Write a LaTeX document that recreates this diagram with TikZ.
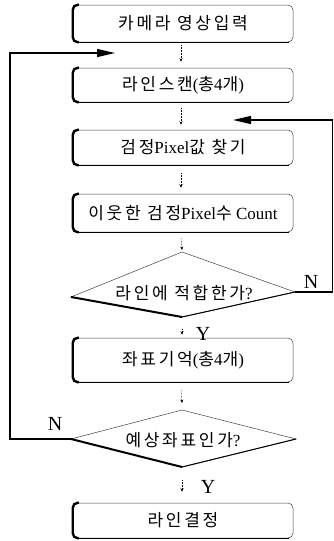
\documentclass[tikz,border=0pt]{standalone}
\usepackage{fontspec}
\setmainfont{Liberation Serif}
\newfontfamily\kr[LetterSpace=16]{Noto Sans CJK KR}
\usetikzlibrary{arrows.meta}
\begin{document}
\begin{tikzpicture}[x=1pt,y=-1pt,
  flowbox/.style={draw=black!75, line width=0.5pt, rounded corners=5pt,
    minimum width=220pt, inner sep=0pt, font=\fontsize{17}{20}\selectfont},
  thickleft/.style={line width=2.4pt, rounded corners=5pt},
  thickbottom/.style={line width=1.2pt},
  dtext/.style={inner sep=0pt, font=\fontsize{17}{20}\selectfont},
  dedge/.style={draw=black!75, line width=0.5pt},
  smallarrow/.style={densely dotted, line width=0.5pt, -{Stealth[length=3.5pt,width=3pt]}},
  looparrow/.style={line width=1.3pt, -{Triangle[length=18pt,width=8pt]}},
  yn/.style={font=\fontsize{20}{22}\selectfont, inner sep=0pt}]
\useasboundingbox (0,0) rectangle (334,541);
% boxes
\node[flowbox, minimum height=37pt] (b1) at (183,23.5) {\kr 카메라 영상입력};
\node[flowbox, minimum height=34pt] (b2) at (183,85) {{\kr 라인스캔}({\kr 총}4{\kr 개})};
\node[flowbox, minimum height=35pt] (b3) at (183,147.5) {{\kr 검정}Pixel{\kr 값 찾기}};
\node[flowbox, minimum height=38pt] (b4) at (183,213) {{\kr 이웃한 검정}Pixel{\kr 수} Count};
\node[flowbox, minimum height=44pt] (b5) at (183,360) {{\kr 좌표기억}({\kr 총}4{\kr 개})};
\node[flowbox, minimum height=35pt] (b6) at (183,520.5) {\kr 라인결정};
\foreach \b in {b1,b2,b3,b4,b5,b6}{
  \draw[thickleft] ([xshift=6pt]\b.north west) -- (\b.north west) -- (\b.south west) -- ([xshift=6pt]\b.south west);
  \draw[thickbottom] ([xshift=4pt]\b.south west) -- ([xshift=-4pt]\b.south east);
}
% diamonds
\coordinate (d1t) at (182,252);
\coordinate (d1l) at (71,297);
\coordinate (d1r) at (295,292);
\coordinate (d1b) at (182,317);
\node[dtext] (d1) at (184,293) {{\kr 라인에 적합한가}?};
\draw[dedge] (d1l) -- (d1t) -- (d1r) -- (d1b) -- cycle;
\draw[line width=2pt] (d1l) -- (d1b);
\draw[line width=1pt] (d1b) -- (d1r);
\coordinate (d2t) at (182,410);
\coordinate (d2l) at (71,439);
\coordinate (d2r) at (296,439);
\coordinate (d2b) at (182,467);
\node[dtext] (d2) at (183,440) {{\kr 예상좌표인가}?};
\draw[dedge] (d2l) -- (d2t) -- (d2r) -- (d2b) -- cycle;
\draw[line width=2pt] (d2l) -- (d2b);
\draw[line width=1pt] (d2b) -- (d2r);
% small arrows
\draw[smallarrow] ([xshift=-2pt,yshift=-3pt]b1.south) -- ([xshift=-2pt,yshift=6pt]b2.north);
\draw[smallarrow] ([xshift=-2pt,yshift=-6pt]b2.south) -- ([xshift=-2pt,yshift=5pt]b3.north);
\draw[smallarrow] ([xshift=-2pt,yshift=-8pt]b3.south) -- ([xshift=-2pt,yshift=6pt]b4.north);
\draw[smallarrow] ([xshift=-2pt,yshift=-6pt]b4.south) -- ([yshift=2pt]d1t);
\draw[smallarrow] ([yshift=-12pt]d1b) -- ([xshift=-1pt,yshift=3pt]b5.north);
\draw[smallarrow] ([xshift=-2pt,yshift=-8pt]b5.south) -- ([yshift=7pt]d2t);
\draw[smallarrow] ([yshift=-13pt]d2b) -- ([xshift=-1pt,yshift=11pt]b6.north);
% labels
\node[yn] (y1) at (203,334) {Y};
\node[yn] (y2) at (208,487) {Y};
\node[yn] (n1) at (311,282) {N};
\node[yn] (n2) at (55,424) {N};
% loops
\coordinate (lin) at (115,53);
\coordinate (rin) at (233,120);
\draw[looparrow] (d2l) -- (10,439) -- (10,53) -- (lin);
\draw[looparrow] (d1r) -- (332.5,292) -- (332.5,120) -- (rin);
\end{tikzpicture}
\end{document}
